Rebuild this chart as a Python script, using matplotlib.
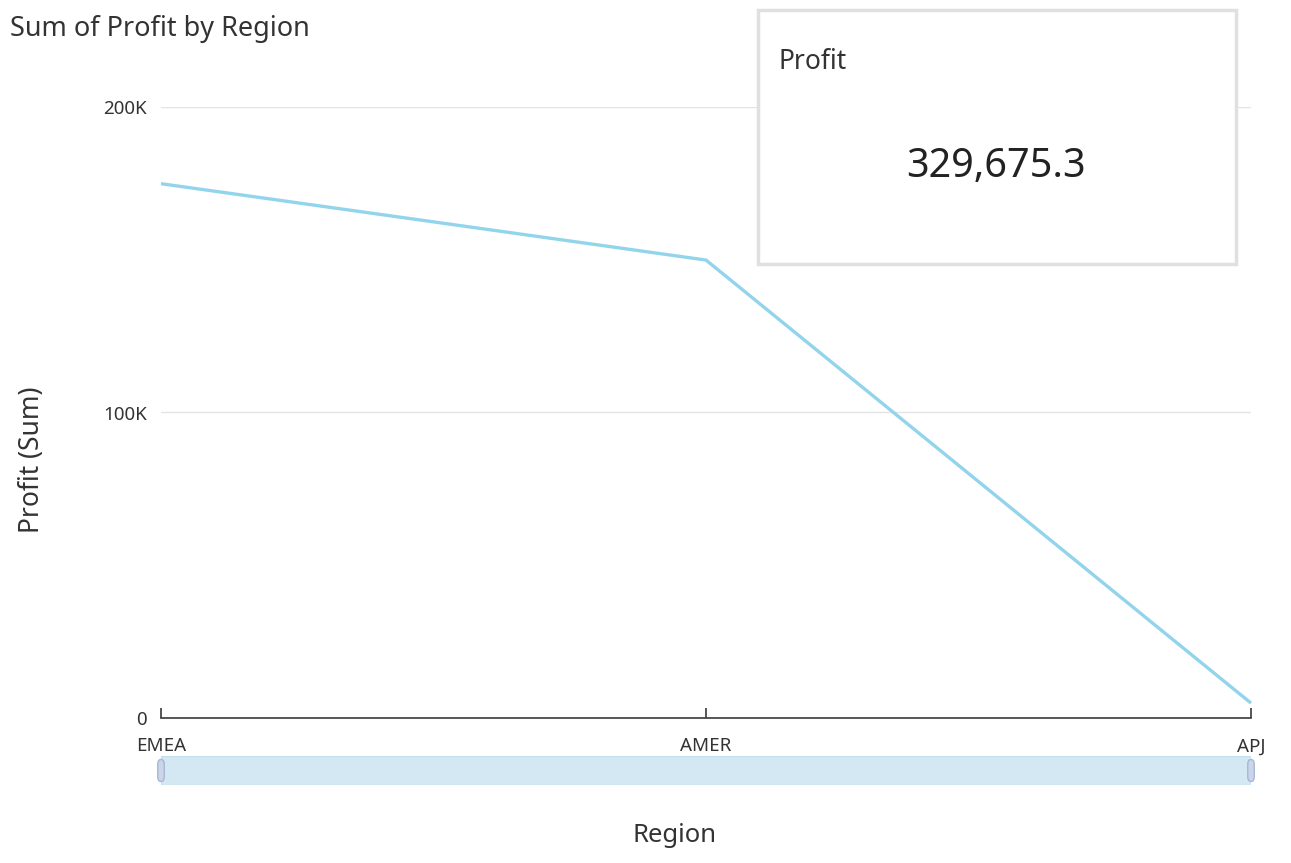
import matplotlib
matplotlib.use("Agg")
import matplotlib.pyplot as plt
from matplotlib.patches import Rectangle, FancyBboxPatch
from matplotlib.ticker import FuncFormatter

plt.rcParams['font.family'] = ['Noto Sans', 'DejaVu Sans']

# dati
regions = ['EMEA', 'AMER', 'APJ']
profit = [174900, 149900, 4875.3]
yticks = [0, 100000, 200000]
kpi_label = 'Profit'

fig = plt.figure(figsize=(12.91, 8.63), dpi=100, facecolor='w')
ax = fig.add_axes([161/1291, 1 - 718/863, (1251 - 161)/1291, (718 - 107)/863])

x = list(range(len(regions)))
ax.plot(x, profit, color='#92d4ec', linewidth=2.4, solid_capstyle='butt', clip_on=False, zorder=3)

ax.set_xlim(0, len(regions) - 1)
ax.set_ylim(0, 200000)
ax.set_xticks(x)
ax.set_xticklabels(regions)
ax.set_yticks(yticks)
ax.yaxis.set_major_formatter(FuncFormatter(lambda v, p: '0' if v == 0 else f'{int(v/1000)}K'))

for s in ['left', 'right', 'top']:
    ax.spines[s].set_visible(False)
ax.spines['bottom'].set_color('#3a3a3a')
ax.spines['bottom'].set_linewidth(1.2)
ax.grid(axis='y', color='#e4e4e4', linewidth=1)
ax.set_axisbelow(True)
ax.tick_params(axis='x', direction='in', length=7, width=1.2, color='#3a3a3a',
               labelsize=13.5, labelcolor='#333333', pad=14)
ax.tick_params(axis='y', length=0, labelsize=13.5, labelcolor='#333333', pad=10)

# barra di scorrimento sotto l'asse
sb = fig.add_axes([161/1291, 1 - 785/863, (1251 - 161)/1291, (785 - 756)/863])
sb.set_xlim(ax.get_xlim())
sb.set_ylim(0, 1)
sb.axis('off')
sb.add_patch(Rectangle((0, 0), len(regions) - 1, 1, facecolor='#d3e8f2', edgecolor='#c4dfec', lw=1))
for xe in [0, len(regions) - 1]:
    sb.add_patch(FancyBboxPatch((xe - 0.006, 0.12), 0.012, 0.76,
                                boxstyle='round,pad=0,rounding_size=0.006',
                                mutation_aspect=30,
                                facecolor='#c9d6ea', edgecolor='#a9b6d6', lw=1, clip_on=False))

# etichette
fig.text(10/1291, 1 - 29/863, 'Sum of Profit by Region', fontsize=19.5, color='#333333',
         ha='left', va='center')
fig.text(32/1291, 1 - 460/863, 'Profit (Sum)', fontsize=19, color='#333333',
         rotation=90, ha='center', va='center')
fig.text(675/1291, 1 - 835/863, 'Region', fontsize=18.5, color='#333333',
         ha='center', va='center')

# riquadro KPI
kx0, ky0, kx1, ky1 = 758/1291, 1 - 264/863, 1236/1291, 1 - 10/863
fig.patches.append(Rectangle((kx0, ky0), kx1 - kx0, ky1 - ky0, transform=fig.transFigure,
                             facecolor='w', edgecolor='#e0e0e0', lw=2.5, zorder=5))
fig.text(778/1291, 1 - 62/863, kpi_label, fontsize=19, color='#333333',
         ha='left', va='center', zorder=6)
fig.text(996/1291, 1 - 167/863, f'{sum(profit):,.1f}', fontsize=28.5, color='#222222',
         ha='center', va='center', zorder=6)

fig.savefig('out.png', dpi=100, facecolor='w')
